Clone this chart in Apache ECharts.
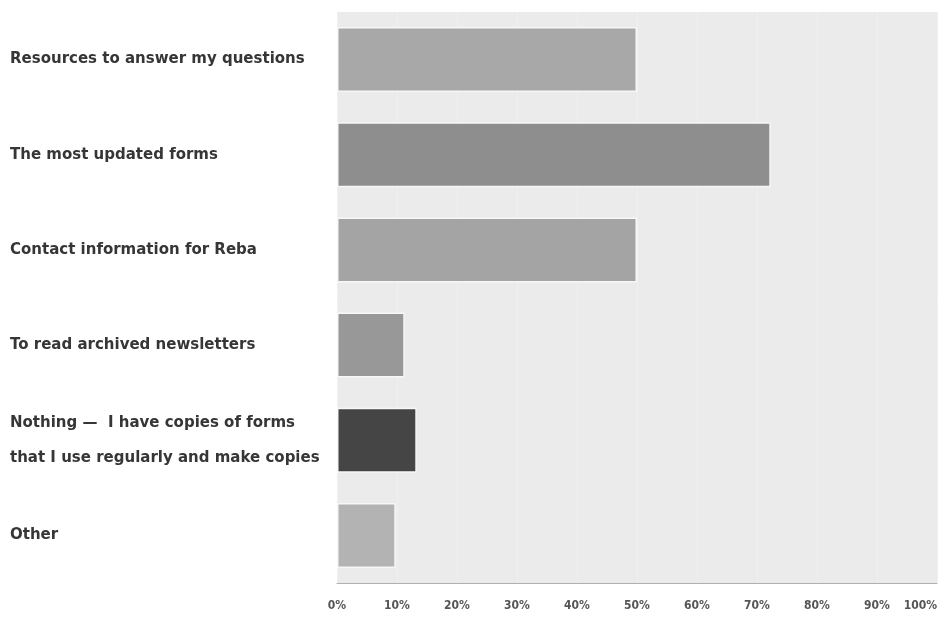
<!DOCTYPE html>
<html>
<head>
<meta charset="utf-8">
<script src="https://cdn.jsdelivr.net/npm/echarts@6/dist/echarts.min.js"></script>
<style>html,body{margin:0;padding:0;background:#fff;}#c{width:942px;height:620px;}</style>
</head>
<body>
<div id="c"></div>
<script>
var categories = [
  "Resources to answer my questions",
  "The most updated forms",
  "Contact information for Reba",
  "To read archived newsletters",
  "Nothing \u2014  I have copies of forms\nthat I use regularly and make copies",
  "Other"
];
var values = [50, 72.3, 50, 11.3, 13.3, 9.8];
var barColors = ["#a8a8a8", "#8e8e8e", "#a4a4a4", "#989898", "#454545", "#b3b3b3"];
var tickValues = [0, 10, 20, 30, 40, 50, 60, 70, 80, 90, 100];

var chart = echarts.init(document.getElementById('c'), null, {renderer: 'canvas'});
chart.setOption({
  animation: false,
  backgroundColor: '#ffffff',
  grid: {
    left: 337, right: 5, top: 12, bottom: 37,
    show: true, backgroundColor: '#ebebeb', borderWidth: 0
  },
  xAxis: {
    type: 'value', min: 0, max: 100, interval: 10,
    axisLine: {show: true, lineStyle: {color: '#b0b0b0', width: 1}},
    axisTick: {show: false},
    splitLine: {show: true, lineStyle: {color: '#f0f0f0', width: 1}},
    axisLabel: {
      formatter: function (v) { return tickValues.indexOf(v) >= 0 ? v + '%' : ''; },
      fontFamily: 'DejaVu Sans Condensed', fontWeight: 'bold', fontSize: 12, color: '#555',
      margin: 17, alignMaxLabel: 'right'
    }
  },
  yAxis: {
    type: 'category', data: categories, inverse: true,
    axisLine: {show: false}, axisTick: {show: false},
    axisLabel: {
      align: 'left', margin: 327,
      fontFamily: 'DejaVu Sans', fontWeight: 'bold', fontSize: 15, color: '#363636', lineHeight: 35
    }
  },
  series: [{
    type: 'bar',
    barWidth: 65,
    data: values.map(function (v, i) {
      return {value: v, itemStyle: {color: barColors[i], borderColor: '#f7f7f7', borderWidth: 1.5}};
    })
  }]
});
</script>
</body>
</html>
